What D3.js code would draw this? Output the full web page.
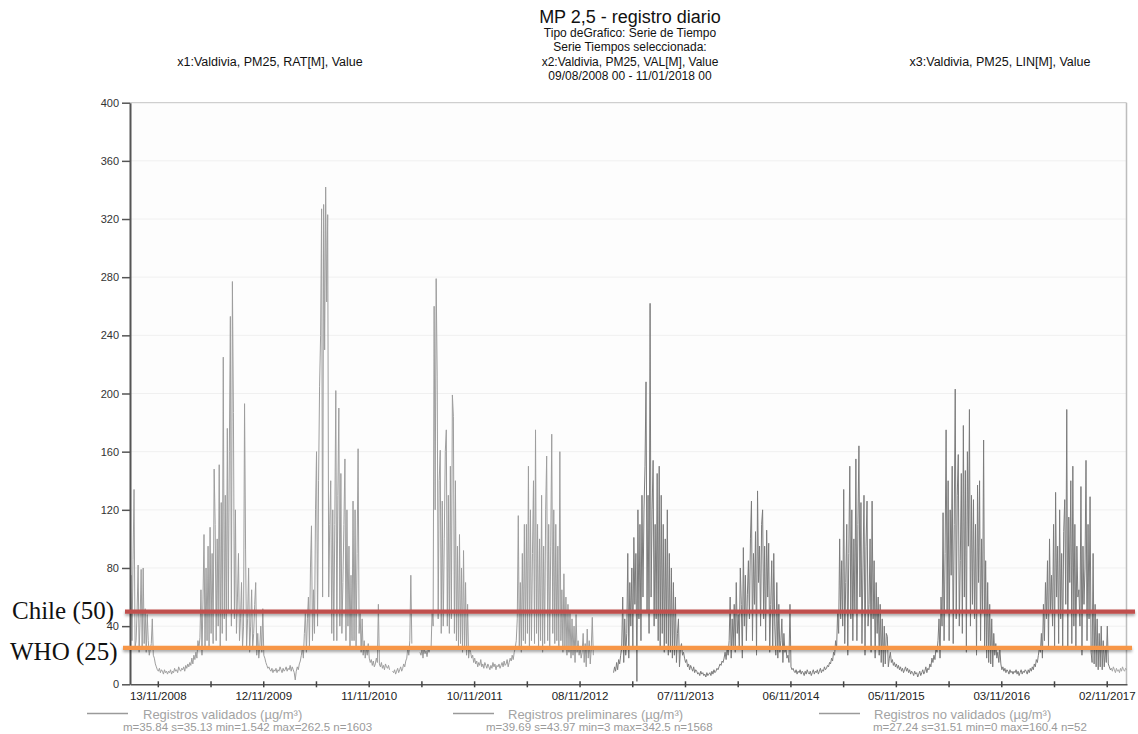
<!DOCTYPE html>
<html>
<head>
<meta charset="utf-8">
<script src="https://cdn.jsdelivr.net/npm/d3@7"></script>
<style>
body { margin: 0; background: #fff; }
svg text { font-family: Arial, "Liberation Sans", sans-serif; }
</style>
</head>
<body>
<svg id="chart" width="1138" height="734"></svg>
<script>
// daily PM2.5, Valdivia - one value every 3.5 days, one array per season (Aug -> Aug)
var stepDays = 3.5;
var seasonStarts = ["2008-08-09", "2009-08-08", "2010-08-07", "2011-08-06", "2012-08-04",
                    "2013-08-03", "2014-08-02", "2015-08-01", "2016-07-30", "2017-07-29"];

var s2008 = [60, 75, 30, 86, 134, 25, 30, 50, 82, 22, 45, 79, 25,
             80, 28, 52, 22, 48, 30, 20, 24, 28, 45, 20, 18, 14,
             12, 10, 9, 11, 8, 10, 9, 7, 10, 8, 9, 7, 9,
             8, 10, 7, 9, 8, 11, 9, 10, 8, 12, 10, 9, 11,
             10, 12, 9, 13, 11, 14, 12, 15, 13, 18, 14, 20, 17,
             22, 18, 30, 25, 32, 65, 20, 58, 103, 25, 80, 30, 95,
             25, 108, 35, 90, 28, 148, 110, 30, 100, 40, 151, 25, 125,
             35, 225, 45, 130, 30, 176, 50, 160, 253, 40, 277, 187, 45];
var s2009 = [120, 35, 60, 90, 30, 45, 70, 25, 40, 193, 93, 25, 45,
             80, 22, 40, 65, 25, 35, 55, 70, 20, 35, 18, 25, 40,
             22, 52, 20, 18, 15, 13, 11, 12, 10, 9, 11, 8, 10,
             9, 11, 8, 10, 9, 12, 10, 8, 11, 9, 10, 12, 9,
             11, 10, 13, 9, 12, 10, 8, 3, 9, 12, 10, 14, 16,
             20, 25, 18, 35, 50, 22, 45, 60, 25, 80, 109, 30, 65,
             35, 120, 160, 40, 140, 205, 240, 327, 60, 330, 230, 342, 263,
             323, 60, 110, 140, 35, 120, 30, 110, 202, 30, 130, 190, 40];
var s2010 = [145, 35, 70, 110, 155, 30, 120, 40, 95, 25, 75, 30, 126,
             30, 120, 25, 90, 162, 35, 50, 22, 45, 20, 30, 18, 25,
             20, 28, 18, 15, 17, 13, 16, 12, 14, 18, 15, 55, 14,
             12, 15, 11, 13, 10, 14, 12, 11, 13, 10, null, null, 9,
             8, 10, 7, 9, 11, 8, 10, 12, 9, 11, 14, 12, 16,
             18, 25, 20, 30, 75, 28, null, null, null, null, null, null, null,
             22, 20, 24, 18, 25, 21, 23, 19, 24, 22, 26, 25, 51,
             40, 260, 120, 279, 212, 45, 140, 161, 35, 126, 40, 100, 160];
var s2011 = [175, 40, 130, 35, 150, 45, 199, 184, 35, 140, 30, 95, 25,
             103, 28, 80, 22, 92, 25, 70, 20, 55, 18, 25, 22, 18,
             20, 15, 18, 14, 16, 12, 15, 13, 17, 12, 14, 11, 15,
             13, 11, 14, 12, 10, 13, 11, 15, 12, 14, 10, 13, 12,
             14, 11, 13, 15, 12, 16, 13, 14, 17, 12, 15, 18, 16,
             20, 17, 22, 25, 30, 45, 116, 25, 70, 22, 90, 30, 110,
             28, 110, 35, 150, 25, 120, 30, 90, 140, 28, 175, 35, 110,
             25, 100, 30, 130, 22, 95, 28, 120, 157, 30, 110, 25, 95];
var s2012 = [172, 35, 120, 28, 110, 30, 95, 25, 160, 30, 65, 22, 76,
             25, 60, 20, 55, 22, 50, 18, 45, 20, 40, 15, 48, 22,
             30, 20, 25, 18, 22, 35, 15, 28, 12, 38, 18, 30, 14,
             25, 46, 20, null, null, null, null, null, null, null, null, null, null,
             null, null, null, null, null, null, null, null, null, 8, 12, 9, 15,
             10, 17, 14, 20, 25, 60, 15, 45, 20, 35, 90, 18, 70,
             40, 80, 25, 101, 55, 90, 2, 120, 45, 110, 30, 130, 60,
             120, 150, 208, 50, 130, 35, 262, 60, 120, 154, 40, 110, 45];
var s2013 = [145, 30, 150, 25, 130, 35, 110, 22, 100, 28, 120, 20, 90,
             22, 80, 18, 70, 20, 60, 15, 35, 45, 12, 25, 28, 20,
             22, 18, 15, 17, 12, 14, 10, 13, 11, 9, 12, 8, 10,
             9, 7, 8, 6, 9, 7, 8, 6, 7, 5, 8, 6, 7,
             8, 6, 9, 7, 10, 8, 9, 11, 10, 12, 14, 13, 16,
             15, 18, 22, 17, 25, 20, 30, 60, 18, 45, 25, 55, 22,
             70, 35, 48, 25, 80, 55, 18, 94, 40, 75, 30, 62, 85,
             45, 100, 126, 30, 90, 55, 105, 20, 133, 70, 95, 40, 110];
var s2014 = [120, 45, 95, 30, 106, 60, 97, 22, 55, 85, 25, 90, 40,
             20, 70, 18, 55, 22, 30, 45, 15, 35, 22, 25, 18, 20,
             15, 55, 12, 10, 11, 9, 8, 10, 7, 9, 8, 10, 7,
             9, 8, 6, 9, 7, 10, 8, 7, 9, 6, 8, 10, 7,
             9, 8, 10, 7, 9, 11, 8, 10, 9, 12, 10, 11, 13,
             12, 15, 14, 18, 16, 22, 20, 30, 25, 50, 35, 100, 45,
             85, 40, 134, 28, 70, 110, 20, 90, 150, 45, 120, 30, 100,
             50, 155, 30, 110, 164, 60, 125, 28, 80, 130, 20, 95, 126];
var s2015 = [40, 55, 100, 22, 126, 45, 85, 18, 70, 35, 60, 20, 55,
             15, 45, 12, 40, 14, 35, 33, 12, 18, 22, 15, 17, 13,
             15, 12, 14, 11, 13, 10, 12, 9, 11, 8, 10, 12, 9,
             11, 8, 10, 7, 9, 8, 6, 9, 7, 8, 5, 7, 9,
             6, 8, 10, 7, 9, 12, 8, 11, 10, 14, 12, 18, 15,
             20, 17, 25, 22, 30, 45, 18, 60, 40, 118, 30, 90, 175,
             50, 140, 30, 120, 75, 150, 28, 110, 203, 45, 130, 158, 40,
             85, 145, 35, 178, 60, 147, 22, 160, 95, 189, 40, 130, 55];
var s2016 = [127, 45, 110, 20, 137, 70, 140, 30, 100, 50, 168, 25, 85,
             18, 70, 15, 55, 14, 45, 12, 35, 20, 28, 18, 22, 15,
             24, 14, 10, 12, 9, 11, 8, 10, 9, 7, 10, 8, 9,
             7, 9, 8, 10, 7, 9, 6, 8, 10, 7, 9, 8, 10,
             9, 7, 10, 8, 11, 9, 12, 10, 14, 12, 17, 15, 20,
             25, 22, 35, 18, 55, 30, 70, 45, 85, 25, 100, 50, 75,
             40, 110, 25, 132, 60, 95, 28, 120, 45, 90, 25, 105, 127,
             55, 189, 25, 115, 70, 140, 28, 150, 40, 110, 25, 95, 60];
var s2017 = [65, 40, 136, 20, 95, 55, 80, 154, 30, 110, 45, 129, 22,
             15, 90, 14, 55, 12, 45, 10, 35, 12, 40, 10, 30, 12,
             25, 15, 40, 14, 12, 10, 11, 9, 12, 10, 8, 11, 9,
             10, 8, 11, 9, 12, 10, 9, 11, 10];

var seasons = [s2008, s2009, s2010, s2011, s2012, s2013, s2014, s2015, s2016, s2017];

// date where each record type starts
var validatedFrom = "2013-01-01";
var notValidatedFrom = "2017-11-20";

var thresholdValues = [50, 25];
var thresholdLabels = ["Chile (50)", "WHO (25)"];

var yTicks = [0, 40, 80, 120, 160, 200, 240, 280, 320, 360, 400];
var xTickLabels = ["13/11/2008", "12/11/2009", "11/11/2010", "10/11/2011", "08/11/2012",
                   "07/11/2013", "06/11/2014", "05/11/2015", "03/11/2016", "02/11/2017"];

var legendNames = ["Registros validados (µg/m³)", "Registros preliminares (µg/m³)", "Registros no validados (µg/m³)"];
var legendStats = ["m=35.84 s=35.13 min=1.542 max=262.5 n=1603",
                   "m=39.69 s=43.97 min=3 max=342.5 n=1568",
                   "m=27.24 s=31.51 min=0 max=160.4 n=52"];

var headerLines = ["Tipo deGrafico: Serie de Tiempo", "Serie Tiempos seleccionada:",
                   "x2:Valdivia, PM25, VAL[M], Value", "09/08/2008 00 - 11/01/2018 00"];

var parseIso = d3.utcParse("%Y-%m-%d");
var parseDay = d3.utcParse("%d/%m/%Y");
var dayMs = 24 * 60 * 60 * 1000;

var svg = d3.select("#chart");

var x = d3.scaleUtc()
    .domain([parseDay("09/08/2008"), parseDay("11/01/2018")])
    .range([130, 1127]);
var y = d3.scaleLinear()
    .domain([0, 400])
    .range([684.3, 102.7]);

// shadow for the two limit lines (user space, a flat line has no bbox height)
var defs = svg.append("defs");
var shadow = defs.append("filter").attr("id", "shadow")
    .attr("filterUnits", "userSpaceOnUse")
    .attr("x", 0).attr("y", 0).attr("width", 1138).attr("height", 734);
shadow.append("feDropShadow").attr("dx", 0).attr("dy", 2).attr("stdDeviation", 1.6)
    .attr("flood-color", "#000").attr("flood-opacity", 0.35);
defs.append("clipPath").attr("id", "plotClip").append("rect")
    .attr("x", 130).attr("y", 102.7).attr("width", 997).attr("height", 581.6);

// plot background + grid
svg.append("rect").attr("x", 130).attr("y", 102.7).attr("width", 997).attr("height", 581.6)
    .style("fill", "#fdfdfd");

svg.selectAll(".grid")
    .data(yTicks.filter(function (d) { return d > 0 && d < 400; }))
    .enter().append("line")
    .attr("class", "grid")
    .attr("x1", 131).attr("x2", 1126)
    .attr("y1", function (d) { return y(d); })
    .attr("y2", function (d) { return y(d); })
    .style("stroke", "#f0f0f0")
    .style("stroke-width", 1);

// top and right border
svg.append("line").attr("x1", 130).attr("x2", 1126.5).attr("y1", 102.7).attr("y2", 102.7)
    .style("stroke", "#c4c4c4").style("stroke-width", 1);
svg.append("line").attr("x1", 1126.5).attr("x2", 1126.5).attr("y1", 102.7).attr("y2", 684.3)
    .style("stroke", "#bdbdbd").style("stroke-width", 1.5);

// build the points
var points = [];
seasons.forEach(function (vals, k) {
    var start = parseIso(seasonStarts[k]).getTime();
    vals.forEach(function (v, i) {
        points.push({ t: new Date(start + i * stepDays * dayMs), v: v });
    });
});

var cut1 = parseIso(validatedFrom), cut2 = parseIso(notValidatedFrom);
var prelim = points.filter(function (d) { return d.t < cut1; });
var valid = points.filter(function (d) { return d.t >= cut1 && d.t < cut2; });
var noValid = points.filter(function (d) { return d.t >= cut2; });
noValid.unshift(valid[valid.length - 1]);

var line = d3.line()
    .defined(function (d) { return d.v != null; })
    .x(function (d) { return x(d.t); })
    .y(function (d) { return y(d.v); });

var seriesData = [prelim, valid, noValid];
var seriesColor = ["#9e9e9e", "#7c7c7c", "#a6a6a6"];

svg.append("g").attr("clip-path", "url(#plotClip)")
    .selectAll("path")
    .data(seriesData)
    .enter().append("path")
    .attr("d", line)
    .style("fill", "none")
    .style("stroke", function (d, i) { return seriesColor[i]; })
    .style("stroke-width", 1);

// axes
var yAxis = d3.axisLeft(y).tickValues(yTicks).tickSizeInner(8).tickSizeOuter(0).tickPadding(3);
var gy = svg.append("g").attr("transform", "translate(130,0)").call(yAxis);
gy.select(".domain").style("stroke", "#555").style("stroke-width", 2);
gy.selectAll(".tick line").style("stroke", "#555").style("stroke-width", 1.5);
gy.selectAll(".tick text").style("font-size", "11px").style("fill", "#333")
    .style("font-family", "Arial, 'Liberation Sans', sans-serif");

var labelDates = xTickLabels.map(function (s) { return parseDay(s); });
var xTickDates = [];
labelDates.forEach(function (d) {
    xTickDates.push(d);
    xTickDates.push(new Date(d.getTime() + 182 * dayMs));
});
xTickDates = xTickDates.filter(function (d) { return d <= x.domain()[1]; });
var fmt = d3.utcFormat("%d/%m/%Y");

var xAxis = d3.axisBottom(x).tickValues(xTickDates).tickSizeInner(3).tickSizeOuter(0)
    .tickFormat(function (d, i) { return i % 2 == 0 ? fmt(d) : ""; });
var gx = svg.append("g").attr("transform", "translate(0,684.3)").call(xAxis);
gx.select(".domain").style("stroke", "#555").style("stroke-width", 1.5);
gx.selectAll(".tick line").attr("y1", -3).style("stroke", "#444").style("stroke-width", 1.5);
gx.selectAll(".tick text").attr("y", 8).attr("dy", "0.71em")
    .style("font-size", "11.5px").style("fill", "#222")
    .style("font-family", "Arial, 'Liberation Sans', sans-serif");

// limit lines
var limitColor = ["#c0504d", "#f79646"];
var limitX = [[125, 1135], [123, 1132]];
svg.selectAll(".limit")
    .data(thresholdValues)
    .enter().append("line")
    .attr("class", "limit")
    .attr("x1", function (d, i) { return limitX[i][0]; })
    .attr("x2", function (d, i) { return limitX[i][1]; })
    .attr("y1", function (d) { return y(d); })
    .attr("y2", function (d) { return y(d); })
    .attr("filter", "url(#shadow)")
    .style("stroke", function (d, i) { return limitColor[i]; })
    .style("stroke-width", 4.2);

var limitDy = [7, 12];
svg.selectAll(".limitLabel")
    .data(thresholdValues)
    .enter().append("text")
    .attr("class", "limitLabel")
    .attr("x", function (d, i) { return i == 0 ? 12 : 10; })
    .attr("y", function (d, i) { return y(d) + limitDy[i]; })
    .text(function (d, i) { return thresholdLabels[i]; })
    .style("font-family", "'Times New Roman', 'Liberation Serif', serif")
    .style("font-size", "25px")
    .style("fill", "#111");

// header
svg.append("text").attr("x", 630).attr("y", 23).attr("text-anchor", "middle")
    .text("MP 2,5 - registro diario")
    .style("font-size", "18px").style("fill", "#111");
svg.selectAll(".head")
    .data(headerLines)
    .enter().append("text")
    .attr("class", "head")
    .attr("x", 630)
    .attr("y", function (d, i) { return 37 + i * 14.3; })
    .attr("text-anchor", "middle")
    .text(function (d) { return d; })
    .style("font-size", "12px").style("fill", "#111");
svg.append("text").attr("x", 270).attr("y", 66).attr("text-anchor", "middle")
    .text("x1:Valdivia, PM25, RAT[M], Value").style("font-size", "12.5px").style("fill", "#111");
svg.append("text").attr("x", 1000).attr("y", 66).attr("text-anchor", "middle")
    .text("x3:Valdivia, PM25, LIN[M], Value").style("font-size", "12.5px").style("fill", "#111");

// legend
var legLineX = [87, 453, 819];
var legTextX = [143, 508, 874];
var legStatX = [123, 486, 873];
var leg = svg.selectAll(".leg")
    .data(legendNames)
    .enter().append("g")
    .attr("class", "leg");
leg.append("line")
    .attr("x1", function (d, i) { return legLineX[i]; })
    .attr("x2", function (d, i) { return legLineX[i] + 41; })
    .attr("y1", 713.5).attr("y2", 713.5)
    .style("stroke", "#9a9a9a").style("stroke-width", 1.3);
leg.append("text")
    .attr("x", function (d, i) { return legTextX[i]; })
    .attr("y", 718.5)
    .text(function (d) { return d; })
    .style("font-size", "13px").style("fill", "#a3a3a3");
leg.append("text")
    .attr("x", function (d, i) { return legStatX[i]; })
    .attr("y", 731)
    .text(function (d, i) { return legendStats[i]; })
    .style("font-size", "11.5px").style("fill", "#9a9a9a");
</script>
</body>
</html>
